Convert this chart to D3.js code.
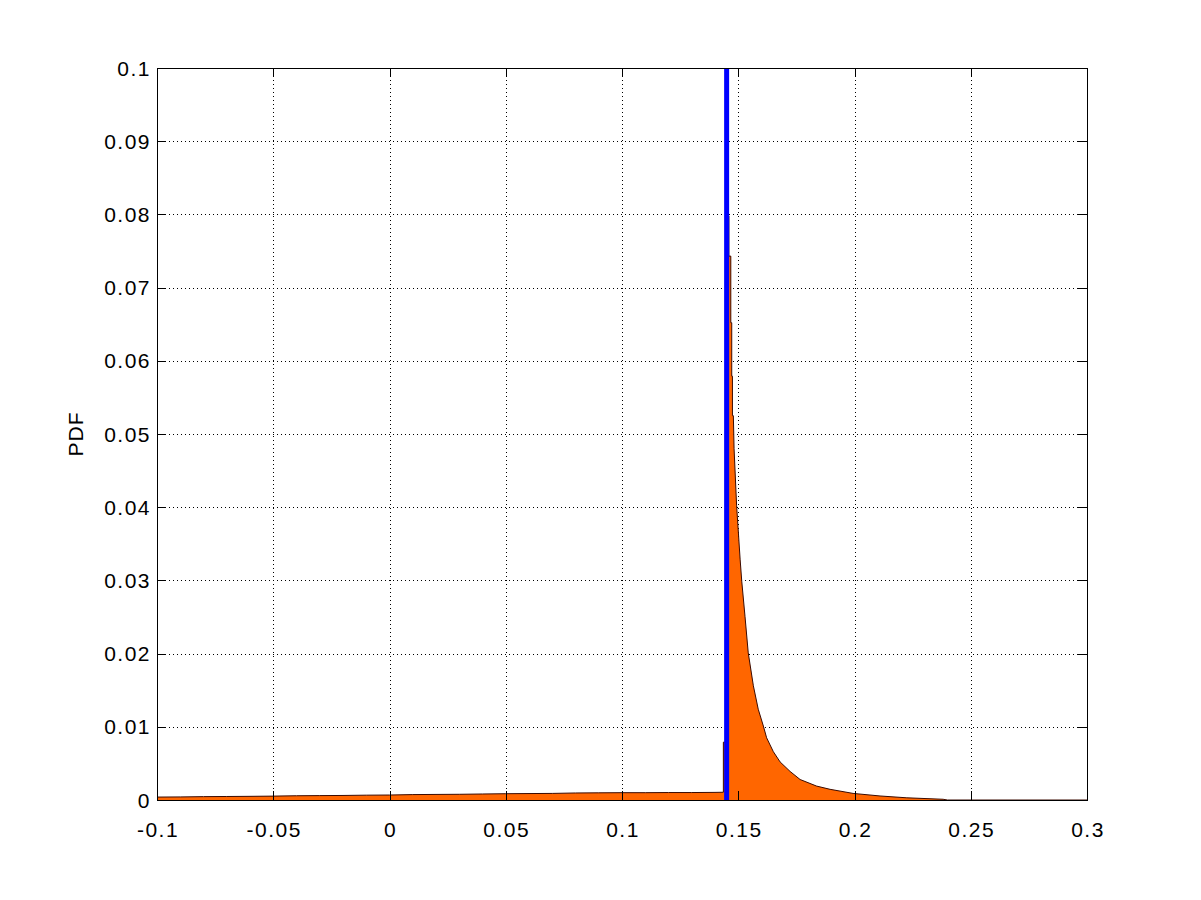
<!DOCTYPE html>
<html>
<head>
<meta charset="utf-8">
<script src="https://cdn.jsdelivr.net/npm/d3@7"></script>
<style>
  body { margin: 0; background: #fff; }
  text { font-family: "Liberation Sans", Arial, sans-serif; fill: #000; }
</style>
</head>
<body>
<div id="chart"></div>
<script>
// histogram outline (x value, pdf)
var pdfX = [-0.10, -0.09, -0.08, -0.07, -0.06, -0.05, -0.04, -0.03, -0.02, -0.01,
            0.00, 0.01, 0.02, 0.03, 0.04, 0.05, 0.06, 0.07, 0.08, 0.09,
            0.10, 0.11, 0.12, 0.13, 0.14, 0.1436,
            0.1436, 0.1447, 0.1447, 0.1460, 0.1460, 0.1468, 0.1468, 0.1472, 0.1472, 0.1475,
            0.1475, 0.1479, 0.1482, 0.1493, 0.1508, 0.1515, 0.1529, 0.1543, 0.1565, 0.1586,
            0.1608, 0.1622, 0.1651, 0.1680, 0.1723, 0.1766, 0.1837, 0.1895, 0.1994, 0.2110,
            0.2225, 0.2381, 0.2400, 0.3000];
var pdfY = [0.00040, 0.00042, 0.00046, 0.00048, 0.00050, 0.00053, 0.00058, 0.00060, 0.00062, 0.00066,
            0.00068, 0.00074, 0.00076, 0.00078, 0.00082, 0.00086, 0.00088, 0.00090, 0.00096, 0.00098,
            0.00100, 0.00100, 0.00102, 0.00102, 0.00104, 0.00106,
            0.0079, 0.0079, 0.0800, 0.0798, 0.0743, 0.0743, 0.0652, 0.0652, 0.0579, 0.0579,
            0.0525, 0.0525, 0.0480, 0.0402, 0.0329, 0.0299, 0.0251, 0.0201, 0.0156, 0.0124,
            0.0101, 0.0085, 0.0066, 0.0052, 0.0039, 0.0028, 0.0019, 0.00146, 0.0009, 0.00055,
            0.0003, 0.0001, 0, 0];

var markerX = 0.145;

var xTicks = [-0.1, -0.05, 0, 0.05, 0.1, 0.15, 0.2, 0.25, 0.3];
var xTickLabels = ["-0.1", "-0.05", "0", "0.05", "0.1", "0.15", "0.2", "0.25", "0.3"];
var yTicks = [0, 0.01, 0.02, 0.03, 0.04, 0.05, 0.06, 0.07, 0.08, 0.09, 0.1];
var yTickLabels = ["0", "0.01", "0.02", "0.03", "0.04", "0.05", "0.06", "0.07", "0.08", "0.09", "0.1"];
var yLabel = "PDF";

var W = 1201, H = 900,
    margin = {left: 157, right: 1087, top: 68, bottom: 800},
    tickLen = 9;

var x = d3.scaleLinear().domain([-0.1, 0.3]).range([margin.left, margin.right]);
var y = d3.scaleLinear().domain([0, 0.1]).range([margin.bottom, margin.top]);

var svg = d3.select("#chart").append("svg")
    .attr("width", W)
    .attr("height", H);

svg.append("rect").attr("width", W).attr("height", H).attr("fill", "#fff");

var data = pdfX.map(function(v, i) { return [v, pdfY[i]]; });

// grid (dotted)
var grid = svg.append("g").attr("stroke", "#000").attr("stroke-width", 1)
    .attr("stroke-dasharray", "1,3");
grid.selectAll(".gx").data(xTicks.slice(1, -1)).enter().append("line")
    .attr("x1", function(d) { return Math.round(x(d)) + 0.5; })
    .attr("x2", function(d) { return Math.round(x(d)) + 0.5; })
    .attr("y1", margin.top).attr("y2", margin.bottom);
grid.selectAll(".gy").data(yTicks.slice(1, -1)).enter().append("line")
    .attr("y1", function(d) { return Math.round(y(d)) + 0.5; })
    .attr("y2", function(d) { return Math.round(y(d)) + 0.5; })
    .attr("x1", margin.left).attr("x2", margin.right);

// histogram area
var area = d3.area()
    .x(function(d) { return x(d[0]); })
    .y0(y(0))
    .y1(function(d) { return y(d[1]); });
var line = d3.line()
    .x(function(d) { return x(d[0]); })
    .y(function(d) { return y(d[1]); });

svg.append("path").datum(data)
    .attr("d", area)
    .attr("fill", "#ff6600");
svg.append("path").datum(data)
    .attr("d", line)
    .attr("fill", "none")
    .attr("stroke", "#3a0a00")
    .attr("stroke-width", 1);

// blue marker line
svg.append("line")
    .attr("x1", x(markerX)).attr("x2", x(markerX))
    .attr("y1", margin.top).attr("y2", margin.bottom)
    .attr("stroke", "#0000ff")
    .attr("stroke-width", 5);

// axes box with inward ticks on all sides
var axisG = svg.append("g").attr("stroke", "#000").attr("stroke-width", 1).attr("fill", "none");
axisG.append("rect")
    .attr("x", margin.left + 0.5).attr("y", margin.top + 0.5)
    .attr("width", margin.right - margin.left).attr("height", margin.bottom - margin.top);

xTicks.forEach(function(t) {
  var px = Math.round(x(t)) + 0.5;
  axisG.append("line").attr("x1", px).attr("x2", px).attr("y1", margin.bottom).attr("y2", margin.bottom - tickLen);
  axisG.append("line").attr("x1", px).attr("x2", px).attr("y1", margin.top).attr("y2", margin.top + tickLen);
});
yTicks.forEach(function(t) {
  var py = Math.round(y(t)) + 0.5;
  axisG.append("line").attr("y1", py).attr("y2", py).attr("x1", margin.left).attr("x2", margin.left + tickLen);
  axisG.append("line").attr("y1", py).attr("y2", py).attr("x1", margin.right).attr("x2", margin.right - tickLen);
});

// tick labels (slightly spaced, like the original rendering)
svg.selectAll(".xl").data(xTicks).enter().append("text")
    .attr("x", function(d) { return x(d) + 1; })
    .attr("y", margin.bottom + 37)
    .attr("text-anchor", "middle")
    .style("font-size", "21px")
    .style("letter-spacing", "1.5px")
    .text(function(d, i) { return xTickLabels[i]; });

svg.selectAll(".yl").data(yTicks).enter().append("text")
    .attr("x", margin.left - 6)
    .attr("y", function(d) { return y(d); })
    .attr("dy", "0.36em")
    .attr("text-anchor", "end")
    .style("font-size", "21px")
    .style("letter-spacing", "1.5px")
    .text(function(d, i) { return yTickLabels[i]; });

svg.append("text")
    .attr("transform", "translate(83," + ((margin.top + margin.bottom) / 2) + ") rotate(-90)")
    .attr("text-anchor", "middle")
    .style("font-size", "21px")
    .style("letter-spacing", "1px")
    .text(yLabel);
</script>
</body>
</html>
